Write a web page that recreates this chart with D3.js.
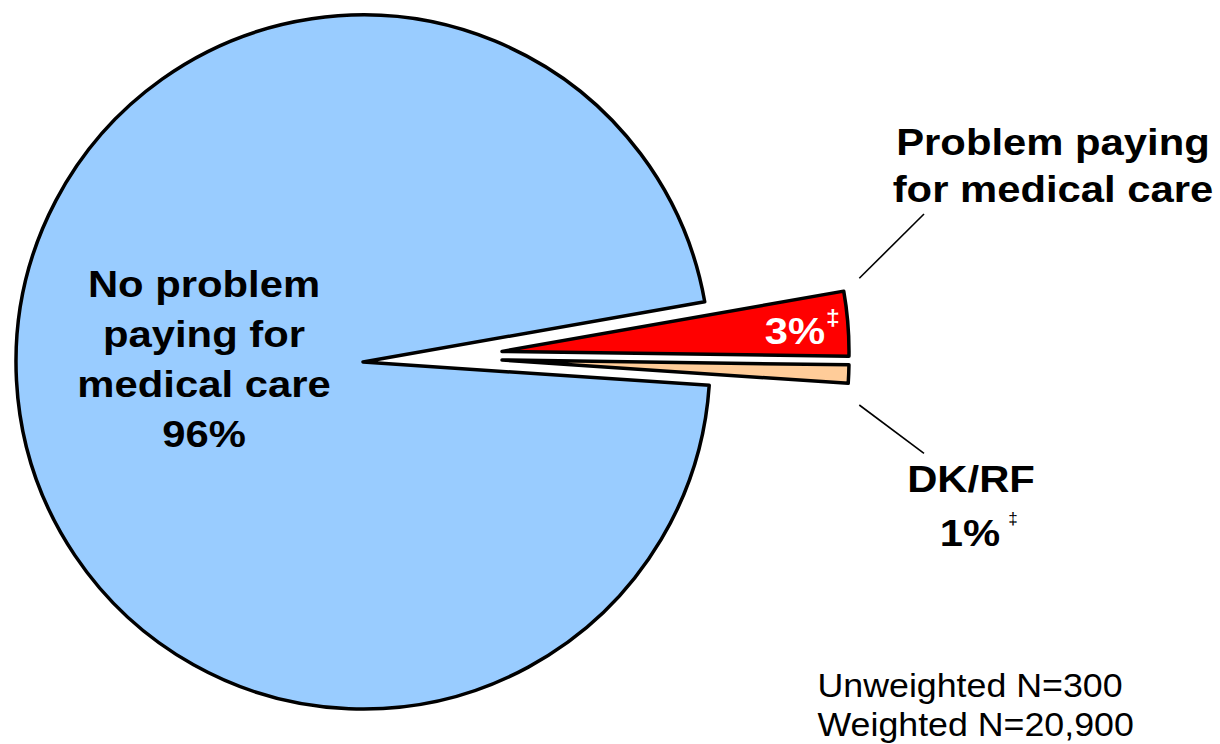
<!DOCTYPE html>
<html>
<head>
<meta charset="utf-8">
<script src="https://cdn.jsdelivr.net/npm/d3@7"></script>
<style>
  html, body { margin: 0; padding: 0; background: #fff; }
  svg { display: block; }
  text { font-family: "Liberation Sans", Arial, Helvetica, sans-serif; }
</style>
</head>
<body>
<svg id="chart" width="1220" height="744"></svg>
<script>
// ---- data ----
const categories = ["Problem paying for medical care", "DK/RF", "No problem paying for medical care"];
const values = [3.0, 0.85, 96.15];
const valueLabels = ["3%", "1%", "96%"];
const colors = ["#FF0000", "#FFCC99", "#99CCFF"];
const footnotes = ["Unweighted N=300", "Weighted N=20,900"];

// ---- layout ----
const W = 1220, H = 744;
const cx = 363, cy = 362, R = 347;
const startDeg = 80;
const explode = [[139, -10.6], [139, -2], [0, 0]];
const sx = 1.13; // horizontal text stretch

const svg = d3.select("#chart");

const pie = d3.pie()
  .sort(null)
  .value(d => d.value)
  .startAngle(startDeg * Math.PI / 180)
  .endAngle((startDeg + 360) * Math.PI / 180);

const arc = d3.arc().innerRadius(0).outerRadius(R);

const data = categories.map((c, i) => ({ cat: c, value: values[i], color: colors[i], off: explode[i] }));
const arcs = pie(data);

svg.append("g")
  .selectAll("path")
  .data(arcs)
  .join("path")
  .attr("transform", d => `translate(${cx + d.data.off[0]},${cy + d.data.off[1]})`)
  .attr("d", arc)
  .attr("fill", d => d.data.color)
  .attr("stroke", "#000")
  .attr("stroke-width", 3.5)
  .attr("stroke-linejoin", "round");

// helper for stretched text
function stretchedText(g, x, y, str, opts) {
  return g.append("text")
    .attr("transform", `translate(${x},${y}) scale(${opts.sx || sx},1)`)
    .attr("text-anchor", opts.anchor || "middle")
    .attr("font-size", opts.size)
    .attr("font-weight", opts.weight || "bold")
    .attr("fill", opts.fill || "#000")
    .text(str);
}

const labels = svg.append("g");

// big slice label
const bigLines = ["No problem", "paying for", "medical care", valueLabels[2]];
bigLines.forEach((s, i) => stretchedText(labels, 204, 297 + i * 50, s, { size: 37 }));

// red slice label
const redLines = ["Problem paying", "for medical care"];
redLines.forEach((s, i) => stretchedText(labels, 1053, 154.5 + i * 47, s, { size: 37 }));
stretchedText(labels, 795, 344, valueLabels[0], { size: 37, fill: "#fff" });
stretchedText(labels, 833, 325, "\u2021", { size: 22, fill: "#fff" });

// peach slice label
stretchedText(labels, 971, 491.5, categories[1], { size: 37 });
stretchedText(labels, 970, 546, valueLabels[1], { size: 37 });
stretchedText(labels, 1013, 524, "\u2021", { size: 17, weight: "normal", sx: 1 });

// leader lines
const leaders = [[[924, 214], [859.3, 278.3]], [[859.3, 405], [924, 453.3]]];
svg.append("g")
  .selectAll("path")
  .data(leaders)
  .join("path")
  .attr("d", d => d3.line()(d))
  .attr("stroke", "#000")
  .attr("stroke-width", 1.6)
  .attr("fill", "none");

// footnotes
footnotes.forEach((s, i) => stretchedText(labels, 817.5, 697 + i * 39, s, { size: 32.5, weight: "normal", anchor: "start", sx: 1.1 }));
</script>
</body>
</html>
